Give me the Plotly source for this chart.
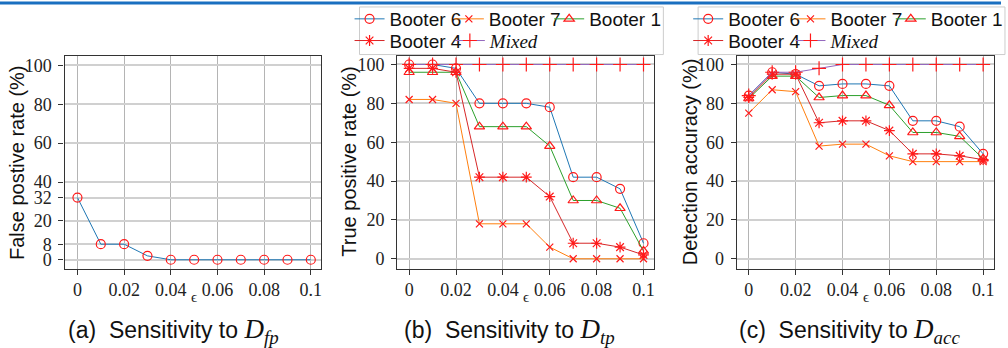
import plotly.graph_objects as go
from plotly.subplots import make_subplots

eps = [0, 0.01, 0.02, 0.03, 0.04, 0.05, 0.06, 0.07, 0.08, 0.09, 0.1]

# (a) false positive rate
fpr = [32, 8, 8, 2, 0, 0, 0, 0, 0, 0, 0]

# (b) true positive rate
tpr_booter6 = [100, 100, 98, 80, 80, 80, 78, 42, 42, 36, 8]
tpr_booter7 = [82, 82, 80, 18, 18, 18, 6, 0, 0, 0, 0]
tpr_booter1 = [96, 96, 96, 68, 68, 68, 58, 30, 30, 26, 4]
tpr_booter4 = [98, 98, 96, 42, 42, 42, 32, 8, 8, 6, 2]
tpr_mixed = [100, 100, 100, 100, 100, 100, 100, 100, 100, 100, 100]

# (c) detection accuracy
acc_booter6 = [84, 96, 95, 89, 90, 90, 89, 71, 71, 68, 54]
acc_booter7 = [75, 87, 86, 58, 59, 59, 53, 50, 50, 50, 50]
acc_booter1 = [82.5, 94, 94, 83, 84, 84, 79, 65, 65, 63, 51.5]
acc_booter4 = [83, 95, 95, 70, 71, 71, 66, 54, 54, 53, 51]
acc_mixed = [84, 96, 96, 98, 100, 100, 100, 100, 100, 100, 100]

fp_ticks = [0, 8, 20, 32, 40, 60, 80, 100]
pct_ticks = [0, 20, 40, 60, 80, 100]
x_ticks = [0, 0.02, 0.04, 0.06, 0.08, 0.1]
x_ticktext = ["0", "0.02", "0.04", "0.06", "0.08", "0.1"]

series_names = ["Booter 6", "Booter 7", "Booter 1", "Booter 4",
                "<span style='font-family:Liberation Serif;font-style:italic'>Mixed</span>"]
line_colors = ["#1f77b4", "#ff7f0e", "#2ca02c", "#d62728", "#9467bd"]
symbols = ["circle-open", "x-thin-open", "triangle-up-open", "asterisk-open", "cross-thin-open"]
sizes = [9, 7, 9, 9, 10]

W, H = 1008, 348
def px_x(p):
    return p / W
def px_y(p):
    return 1 - p / H

fig = make_subplots(rows=1, cols=3)

MK = "#ff1a1a"

# (a)
fig.add_trace(go.Scatter(x=eps, y=fpr, mode="lines+markers",
                         line=dict(color=line_colors[0], width=1),
                         marker=dict(symbol="circle-open", size=9, color=MK,
                                     line=dict(width=1.2, color=MK)),
                         showlegend=False), row=1, col=1)

tpr = [tpr_booter6, tpr_booter7, tpr_booter1, tpr_booter4, tpr_mixed]
acc = [acc_booter6, acc_booter7, acc_booter1, acc_booter4, acc_mixed]

# legend entry text positions (px): [row1 col1, row1 col2, row1 col3, row2 col1, row2 col2]
leg_text_x = {2: [392, 492, 593, 392, 493], 3: [733, 836, 937, 733, 836]}
leg_text_y = [16, 16, 16, 38, 38]

legfont = dict(family="Liberation Sans", size=19, color="#111")
leg_layout = {}
n = 0
for col, data in [(2, tpr), (3, acc)]:
    for i, (name, ys) in enumerate(zip(series_names, data)):
        n += 1
        lname = "legend" if n == 1 else "legend%d" % n
        fig.add_trace(go.Scatter(x=eps, y=ys, mode="lines+markers", name=name,
                                 line=dict(color=line_colors[i], width=1),
                                 marker=dict(symbol=symbols[i], size=sizes[i], color=MK,
                                             line=dict(width=1.2, color=MK)),
                                 legend=lname),
                      row=1, col=col)
        leg_layout[lname] = dict(x=px_x(leg_text_x[col][i] - 40), y=px_y(leg_text_y[i]),
                                 xanchor="left", yanchor="middle", orientation="h",
                                 bgcolor="rgba(0,0,0,0)", borderwidth=0, font=legfont,
                                 itemclick=False)
fig.update_layout(**leg_layout)

ydom = [px_y(268), px_y(53)]
xdoms = [[px_x(65), px_x(323)], [px_x(400), px_x(659)], [px_x(742), px_x(1001)]]
xranges = [[-0.00553, 0.10426], [-0.00508, 0.10466], [-0.00508, 0.10466]]
yranges = [[-4.6, 105.1], [-5.1, 104.6], [-5.1, 104.6]]
ytitles = ["False postive rate (%)", "True positive rate (%)", "Detection accuracy (%)"]
ytitle_x = [17, 352, 695]
yticks = [fp_ticks, pct_ticks, pct_ticks]

tickfont = dict(family="Liberation Serif", size=18, color="#222")
for k in range(3):
    sfx = "" if k == 0 else str(k + 1)
    fig.layout["xaxis" + sfx].update(
        domain=xdoms[k], range=xranges[k], tickvals=x_ticks, ticktext=x_ticktext,
        showgrid=True, gridcolor="#b4b4b4", gridwidth=1, zeroline=False,
        showline=True, mirror=True, linecolor="#333", linewidth=1.3,
        ticks="outside", ticklen=5, tickcolor="#333", tickfont=tickfont)
    fig.layout["yaxis" + sfx].update(
        domain=ydom, range=yranges[k], tickvals=yticks[k],
        showgrid=True, gridcolor="#d0d0d0", gridwidth=1.5, zeroline=False,
        showline=True, mirror=True, linecolor="#333", linewidth=1.3,
        ticks="outside", ticklen=5, tickcolor="#333", tickfont=tickfont,
        ticklabelstandoff=3)
    fig.add_annotation(x=px_x(ytitle_x[k]), xref="paper", y=px_y(160.5), yref="paper",
                       text=ytitles[k], textangle=-90, showarrow=False,
                       font=dict(family="Liberation Sans", size=20, color="#111"),
                       xanchor="center", yanchor="middle")

# legend boxes
for x0, x1 in [(362, 668), (703, 1012)]:
    fig.add_shape(type="rect", xref="paper", yref="paper",
                  x0=px_x(x0), x1=px_x(x1), y0=px_y(52), y1=px_y(4),
                  fillcolor="rgba(255,255,255,0.85)", line=dict(color="#cccccc", width=1),
                  layer="above")

# epsilon labels and captions
capfont = dict(family="Liberation Sans", size=23, color="#111")
caps = ["(a)&nbsp; Sensitivity to ", "(b)&nbsp; Sensitivity to ", "(c)&nbsp; Sensitivity to "]
subs = ["fp", "tp", "acc"]
capx = [175, 513, 855]
for k in range(3):
    sfx = "" if k == 0 else str(k + 1)
    fig.add_annotation(x=0.05, xref="x" + sfx, y=px_y(297), yref="paper",
                       text="ϵ", showarrow=False,
                       font=dict(family="Liberation Serif", size=15, color="#222"),
                       xanchor="center", yanchor="middle")
    fig.add_annotation(x=px_x(capx[k]), xref="paper", y=px_y(331), yref="paper",
                       text=caps[k] + "<span style='font-family:Liberation Serif;font-style:italic;font-size:27px'>D<sub>"
                       + subs[k] + "</sub></span>",
                       showarrow=False, font=capfont, xanchor="center", yanchor="middle")

# top blue rule
fig.add_shape(type="line", xref="paper", yref="paper", x0=0, x1=1, y0=1, y1=1,
              line=dict(color="#1a6fc0", width=3), layer="above")

fig.update_layout(width=W, height=H, margin=dict(l=0, r=0, t=0, b=0),
                  paper_bgcolor="white", plot_bgcolor="white")

fig.write_html("out.html", config={"displayModeBar": False},
               post_script="document.body.style.margin='0px';")
